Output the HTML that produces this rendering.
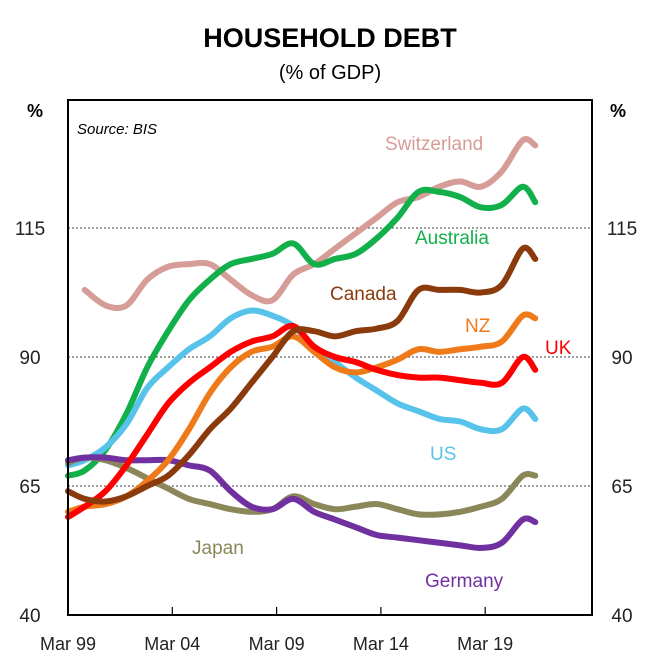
<!DOCTYPE html>
<html><head><meta charset="utf-8"><style>
body{margin:0;background:#fff;}
svg text{font-family:"Liberation Sans",Arial,sans-serif;}
</style></head><body>
<svg id="chart" width="660" height="660" xmlns="http://www.w3.org/2000/svg">
<text x="330" y="47" text-anchor="middle" font-size="27" font-weight="bold">HOUSEHOLD DEBT</text>
<text x="330" y="79" text-anchor="middle" font-size="20">(% of GDP)</text>
<text x="35" y="117" text-anchor="middle" font-size="18" font-weight="bold">%</text>
<text x="618" y="117" text-anchor="middle" font-size="18" font-weight="bold">%</text>
<g id="grid"></g>
<g id="series"></g>
<rect x="68" y="100" width="524" height="515" fill="none" stroke="#000" stroke-width="2"/>
<text x="77" y="134" font-size="15" font-style="italic">Source: BIS</text>
<g id="labels"></g>
</svg>
<script>
const dates=[1999.2,2000,2001,2002,2003,2004,2005,2006,2007,2008,2009,2010,2011,2012,2013,2014,2015,2016,2017,2018,2019,2020,2021,2021.6];
const switzerland=[null,103,100,100,105,107.5,108,108,105,102,101,106,108,111,114,117,120,121,123,124,123,126,132,131];
const australia=[67,68,72,79,88,95,101,105,108,109,110,112,108,109,110,113,117,122,122,121,119,119.5,123,120];
const us=[69,70,72.5,77,84,88,91.5,94,97.5,99,98,96,92,89,86,83.5,81,79.5,78,77.5,76,76,80,78];
const uk=[59,61,64,69,75,81,85,88,91,93,94,96,92,90,89,87.5,86.5,86,86,85.5,85,85,90,87.5];
const nz=[60,61,61.5,63,66,70,76,83,88,91,92,94,91,88,87,88,89.5,91.5,91,91.5,92,93,98,97.5];
const canada=[64,62.5,62,63,65,67,71,76,80,85,90,95,95,94,95,95.5,97,103,103,103,102.5,104,111,109];
const japan=[69.5,70.5,70,68.5,66.5,64.5,62.5,61.5,60.5,60,60.5,63,61.5,60.5,61,61.5,60.5,59.5,59.5,60,61,62.5,67,67];
const germany=[70,70.5,70.5,70,70,70,69,68,64,61,60.5,62.5,60,58.5,57,55.5,55,54.5,54,53.5,53,54,58.5,58];
const yTicks=[40,65,90,115];
const xTickYears=[1999,2004,2009,2014,2019];
const xTickLabels=["Mar 99","Mar 04","Mar 09","Mar 14","Mar 19"];

const NS="http://www.w3.org/2000/svg";
const X=d=>68+(d-1999.2)*20.86;
const Y=v=>615-(v-40)*5.16;
function el(tag,attrs,parent){const e=document.createElementNS(NS,tag);for(const k in attrs)e.setAttribute(k,attrs[k]);parent.appendChild(e);return e;}
const grid=document.getElementById('grid');
const svg=document.getElementById('chart');
yTicks.forEach(v=>{
  if(v>40){const l=el('line',{x1:68,x2:592,y1:Y(v),y2:Y(v),stroke:'#000','stroke-width':0.8,'stroke-dasharray':'2,2'},grid);
  
  }
  const t1=el('text',{x:30,y:Y(v)+7,'text-anchor':'middle','font-size':19,fill:'#222'},svg);t1.textContent=v;
  
  
  const t2=el('text',{x:622,y:Y(v)+7,'text-anchor':'middle','font-size':19,fill:'#222'},svg);t2.textContent=v;
  
  
});
xTickYears.forEach((yr,i)=>{
  const x=X(yr+0.2);
  const tk=el('line',{x1:x,x2:x,y1:615,y2:607,stroke:'#000','stroke-width':1.2},svg);
  
  
  const t=el('text',{x:x,y:650,'text-anchor':'middle','font-size':18,fill:'#222'},svg);t.textContent=xTickLabels[i];
  
  
});
const series=[
 ['switzerland',switzerland,'#d69c97'],['australia',australia,'#12b04a'],['us',us,'#58c3ea'],
 ['japan',japan,'#8b8759'],['germany',germany,'#7030a0'],['nz',nz,'#ef7a1a'],['uk',uk,'#ff0000'],['canada',canada,'#8b3a0c']];
const sg=document.getElementById('series');
series.forEach(([n,vals,c])=>{
  const pts=[];vals.forEach((v,i)=>{if(v!==null)pts.push([X(dates[i]),Y(v)]);});
  let d='M'+pts[0][0]+','+pts[0][1];
  for(let i=0;i<pts.length-1;i++){
    const p0=pts[Math.max(0,i-1)],p1=pts[i],p2=pts[i+1],p3=pts[Math.min(pts.length-1,i+2)];
    const c1x=p1[0]+(p2[0]-p0[0])/6,c1y=p1[1]+(p2[1]-p0[1])/6,c2x=p2[0]-(p3[0]-p1[0])/6,c2y=p2[1]-(p3[1]-p1[1])/6;
    d+=` C${c1x},${c1y} ${c2x},${c2y} ${p2[0]},${p2[1]}`;
  }
  const p=el('path',{d:d,fill:'none',stroke:c,'stroke-width':6,'stroke-linejoin':'round','stroke-linecap':'round'},sg);
  
  
});
const labs=[['Switzerland',385,150,'#d69c97'],['Australia',415,244,'#12b04a'],['Canada',330,300,'#8b3a0c'],['NZ',465,332,'#ef7a1a'],['UK',545,354,'#ff0000'],['US',430,460,'#58c3ea'],['Japan',192,554,'#8b8759'],['Germany',425,587,'#7030a0']];
const lg=document.getElementById('labels');
labs.forEach(([t,x,y,c])=>{
  const e=el('text',{x:x,y:y,'font-size':19,fill:c},lg);e.textContent=t;
  
  
});
</script>
</body></html>
